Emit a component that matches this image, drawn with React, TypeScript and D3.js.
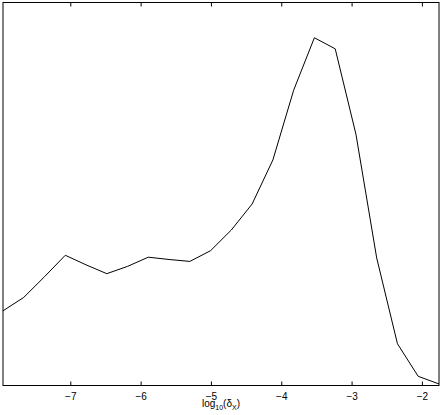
import React, { useEffect, useRef } from 'react';
import * as d3 from 'd3';

// log10 of delta_x, evenly spaced
const xVals = [
  -7.964, -7.669, -7.374, -7.078, -6.783, -6.488, -6.193, -5.898, -5.602, -5.307, -5.012,
  -4.717, -4.421, -4.126, -3.831, -3.536, -3.240, -2.945, -2.650, -2.355, -2.060, -1.764,
];
// density (arbitrary units, no y scale shown)
const yVals = [
  0.195, 0.230, 0.284, 0.340, 0.315, 0.292, 0.311, 0.335, 0.329, 0.324, 0.352,
  0.406, 0.474, 0.589, 0.771, 0.908, 0.879, 0.656, 0.333, 0.109, 0.024, 0.004,
];
const xTicks = [-7, -6, -5, -4, -3, -2];

const W = 443, H = 415;

export default function App() {
  const ref = useRef<SVGSVGElement>(null);

  useEffect(() => {
    const svg = d3.select(ref.current);
    svg.selectAll('*').remove();

    const left = 3, right = 439, top = 2.5, bottom = 385.5;

    const x = d3.scaleLinear().domain([xVals[0], xVals[xVals.length - 1]]).range([left, right]);
    const y = d3.scaleLinear().domain([0, 1]).range([bottom, top]);

    const data = xVals.map((v, i) => ({ x: v, y: yVals[i] }));

    const line = d3.line<{ x: number; y: number }>()
      .x(d => x(d.x))
      .y(d => y(d.y));

    svg.append('path')
      .datum(data)
      .attr('d', line)
      .attr('fill', 'none')
      .attr('stroke', '#000')
      .attr('stroke-width', 1);

    // frame
    svg.append('rect')
      .attr('x', left).attr('y', top)
      .attr('width', right - left).attr('height', bottom - top)
      .attr('fill', 'none').attr('stroke', '#000').attr('stroke-width', 1);

    // inward ticks, top and bottom
    const tickLen = 4;
    svg.selectAll('.tb').data(xTicks).join('line')
      .attr('class', 'tb')
      .attr('x1', d => x(d)).attr('x2', d => x(d))
      .attr('y1', bottom).attr('y2', bottom - tickLen)
      .attr('stroke', '#000');
    svg.selectAll('.tt').data(xTicks).join('line')
      .attr('class', 'tt')
      .attr('x1', d => x(d)).attr('x2', d => x(d))
      .attr('y1', top).attr('y2', top + tickLen)
      .attr('stroke', '#000');

    svg.selectAll('.tl').data(xTicks).join('text')
      .attr('class', 'tl')
      .attr('x', d => x(d))
      .attr('y', 399.5)
      .attr('text-anchor', 'middle')
      .attr('font-family', 'Liberation Sans, Arial, sans-serif')
      .attr('font-size', 10)
      .text(d => '\u2212' + Math.abs(d));

    // x label: log10(δX)
    const lab = svg.append('text')
      .attr('x', (left + right) / 2)
      .attr('y', 406.5)
      .attr('text-anchor', 'middle')
      .attr('font-family', 'Liberation Sans, Arial, sans-serif')
      .attr('font-size', 10);
    lab.append('tspan').text('log');
    lab.append('tspan').attr('font-size', 7).attr('dy', 3).text('10');
    lab.append('tspan').attr('dy', -3).text('(δ');
    lab.append('tspan').attr('font-size', 7).attr('dy', 3).text('X');
    lab.append('tspan').attr('dy', -3).text(')');
  }, []);

  return (
    <svg ref={ref} width={W} height={H}
      style={{ position: 'absolute', left: 0, top: 0, background: '#fff' }} />
  );
}
